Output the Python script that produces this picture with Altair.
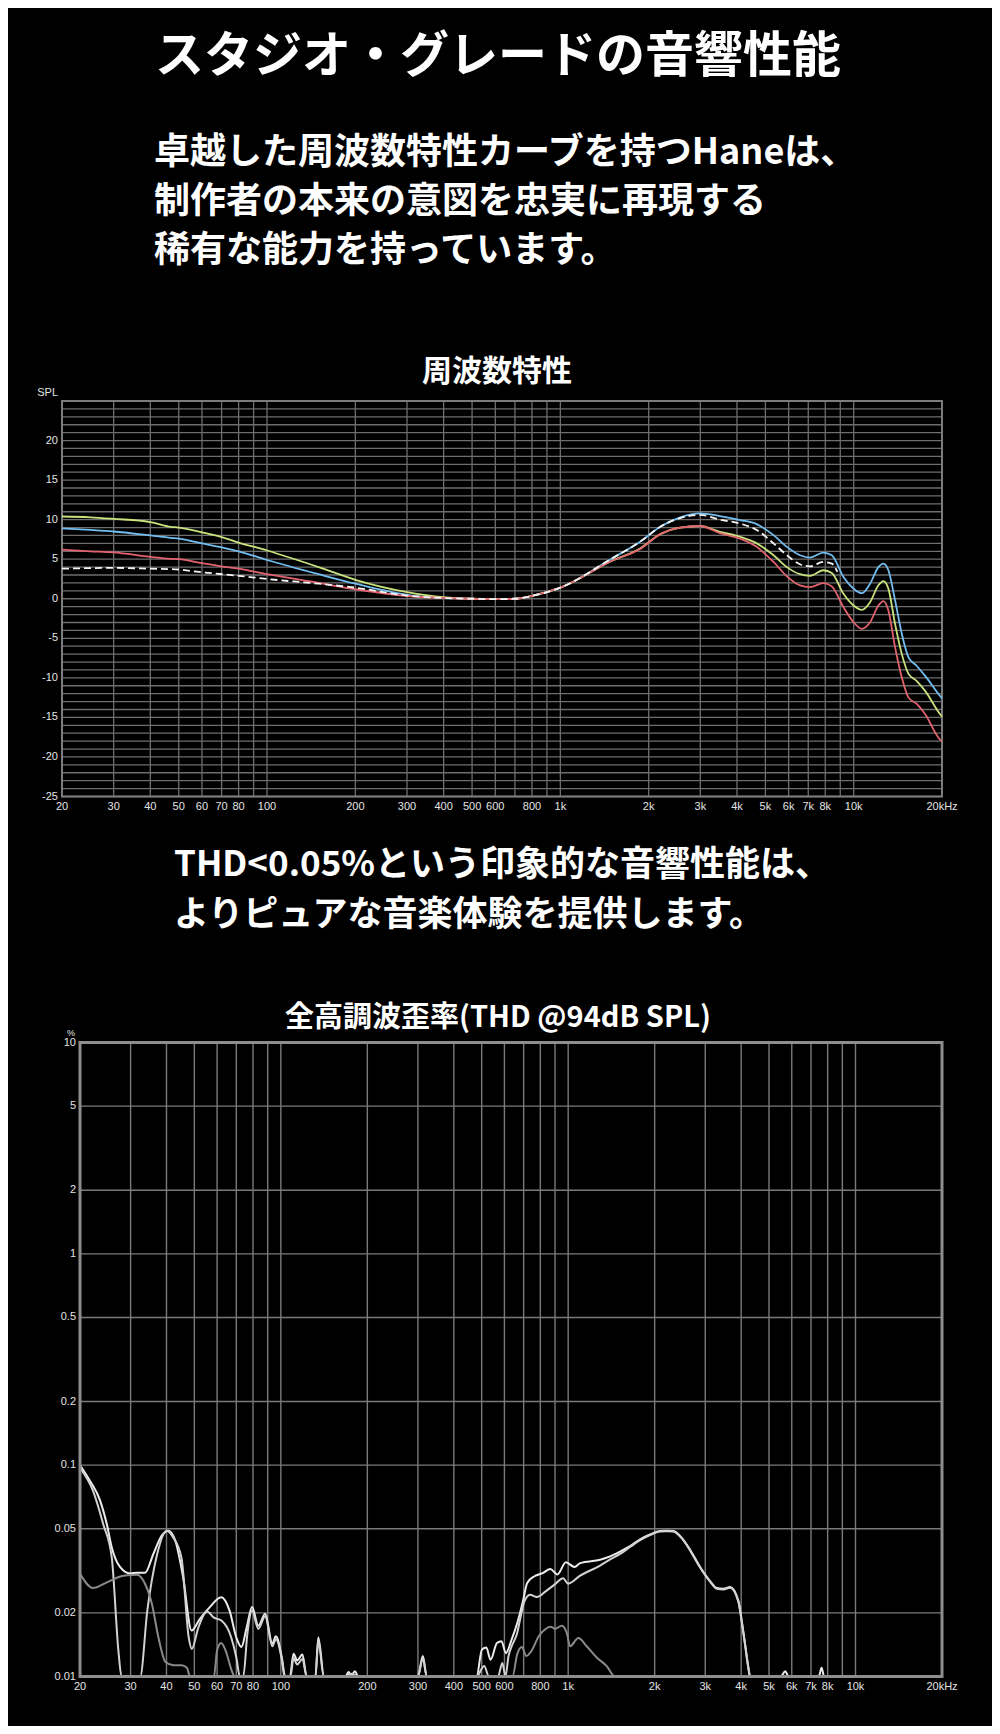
import altair as alt
import pandas as pd

# ---------------- text ----------------
TITLE = "スタジオ・グレードの音響性能"
PARA1 = ["卓越した周波数特性カーブを持つHaneは、", "制作者の本来の意図を忠実に再現する", "稀有な能力を持っています。"]
PARA2 = ["THD<0.05%という印象的な音響性能は、", "よりピュアな音楽体験を提供します。"]
FR_TITLE = "周波数特性"
THD_TITLE = "全高調波歪率(THD @94dB SPL)"
FR_UNIT = "SPL"
THD_UNIT = "%"

# ---------------- frequency response ----------------
fr_freq = [20, 25, 30, 40, 47, 50, 60, 70, 80, 100, 150, 200, 300, 400, 500, 600, 700, 800, 1000,
           1500, 1870, 2190, 2560, 2990, 3500, 4100, 4670, 5330, 5920, 6560, 7100, 7880, 8420,
           9230, 9990, 10660, 11370, 12140, 12630, 13130, 13840, 14590, 15380, 16410, 17520, 19700, 20000]
fr_blue = [8.9, 8.7, 8.5, 8.0, 7.7, 7.6, 7.0, 6.5, 6.0, 4.9, 3.1, 1.9, 0.5, 0.1, 0.0, -0.05, 0.0, 0.35, 1.4,
           5.1, 7.2, 9.1, 10.3, 10.8, 10.45, 9.95, 9.44, 8.04, 6.56, 5.5, 5.2, 5.84, 5.5,
           2.75, 1.27, 0.7, 1.9, 4.0, 4.45, 3.6, -0.2, -4.45, -7.4, -8.5, -9.75, -12.3, -12.6]
fr_green = [10.4, 10.3, 10.1, 9.7, 9.1, 9.0, 8.4, 7.8, 7.1, 6.1, 4.0, 2.4, 0.85, 0.2, 0.0, -0.05, 0.0, 0.35, 1.4,
            4.8, 6.35, 8.17, 9.0, 9.2, 8.46, 7.83, 7.0, 5.5, 4.0, 3.1, 2.9, 3.6, 3.25,
            0.63, -0.85, -1.4, -0.43, 1.7, 2.24, 1.27, -3.2, -7.0, -9.5, -10.4, -11.65, -14.6, -14.9]
fr_red = [6.2, 6.0, 5.85, 5.3, 5.05, 5.0, 4.5, 4.1, 3.8, 3.1, 2.0, 1.2, 0.35, 0.1, 0.0, -0.05, 0.0, 0.35, 1.4,
          4.8, 6.3, 8.17, 9.0, 9.2, 8.3, 7.6, 6.56, 4.65, 2.83, 1.69, 1.48, 1.98, 1.56,
          -1.06, -2.97, -3.8, -2.97, -0.85, -0.3, -1.5, -6.15, -9.96, -12.5, -13.3, -14.6, -17.8, -18.0]
target_freq = [20, 30, 40, 50, 55, 60, 80, 100, 150, 200, 300, 400, 500, 600, 700, 800, 1000, 1500, 1870,
               2190, 2560, 2990, 3500, 4100, 4670, 5330, 5920, 6560, 7100, 7880, 8420, 8800]
target_db = [3.8, 3.9, 3.8, 3.7, 3.5, 3.35, 2.9, 2.5, 1.9, 1.4, 0.4, 0.1, 0.0, -0.05, 0.0, 0.35, 1.4, 5.1, 7.2,
             9.1, 10.2, 10.6, 10.0, 9.5, 8.7, 7.0, 5.5, 4.36, 4.1, 4.65, 4.45, 3.4]
fr_series = ["blue", "green", "red"]
fr_colors = ["#72bdf0", "#c9e27c", "#e2636e"]

# ---------------- THD ----------------
w1_freq = [20, 21.7, 23.5, 24.8, 25.8, 27.6, 29.9, 31.6, 33.7, 36.0, 38.5, 40.6, 42.9, 45.7, 48.9, 52.2, 56.6,
           62, 66.3, 70, 72.9, 76, 79.4, 83.5, 88.2, 93.4, 96.1, 100.8, 103.5, 107.6, 110.7, 114, 118.9, 123,
           131.9, 135, 141.4, 168, 172, 176, 181, 186, 300, 312, 322, 480, 501, 519, 537, 565, 586, 607, 636,
           665, 696, 720, 763, 818, 866, 917, 982, 1052, 1101, 1292, 1400, 1516, 1642, 1780, 1928, 2088, 2204,
           2324, 2486, 2656, 2878, 3118, 3289, 3470, 3660, 3912, 4020, 4128, 4240, 4296, 5500, 5694, 5850,
           7450, 7620, 7780, 20000]
w1_val = [0.1, 0.084, 0.068, 0.0525, 0.0408, 0.0329, 0.0307, 0.031, 0.031, 0.038, 0.0464, 0.049, 0.044, 0.0295,
          0.0165, 0.0187, 0.0213, 0.0237, 0.0205, 0.0153, 0.0138, 0.017, 0.0213, 0.0174, 0.0198, 0.0143, 0.0155,
          0.0123, 0.01, 0.01, 0.0128, 0.0119, 0.0127, 0.01, 0.01, 0.0153, 0.01, 0.01, 0.0105, 0.0101, 0.0106,
          0.01, 0.01, 0.0125, 0.01, 0.01, 0.0134, 0.0137, 0.012, 0.0144, 0.0147, 0.0129, 0.015, 0.0179, 0.0227,
          0.0277, 0.0298, 0.0309, 0.0323, 0.0304, 0.0347, 0.033, 0.0344, 0.0357, 0.037, 0.039, 0.0414, 0.0446,
          0.047, 0.0488, 0.049, 0.0488, 0.0453, 0.0398, 0.033, 0.0283, 0.0262, 0.026, 0.0265, 0.0228, 0.0183,
          0.0142, 0.011, 0.01, 0.01, 0.0106, 0.01, 0.01, 0.011, 0.01, 0.01]
w2_freq = [20, 22.2, 24.1, 25.8, 27.2, 27.9, 32.4, 34.3, 37.0, 40.1, 42.2, 45.1, 47.8, 49, 51.6, 55.4, 58.5,
           62.1, 67.2, 70, 72, 74, 76.5, 79.4, 83.5, 88.2, 93.4, 96.1, 100.8, 103, 108, 110.7, 114, 118.9, 123,
           132, 135, 141, 168, 176, 186, 300, 312, 322, 480, 510, 530, 570, 590, 605, 620, 636, 665, 680, 704,
           737, 778, 835, 896, 960, 1000, 1101, 1292, 1400, 1516, 1642, 1780, 1928, 2088, 2204, 2324, 2486,
           2656, 2878, 3118, 3289, 3470, 3660, 3912, 4020, 4128, 4240, 4296, 20000]
w2_val = [0.097, 0.0755, 0.0525, 0.0365, 0.0133, 0.01, 0.01, 0.0205, 0.0373, 0.049, 0.0455, 0.0365, 0.0153,
          0.0135, 0.017, 0.0203, 0.019, 0.0184, 0.0153, 0.0123, 0.01, 0.01, 0.016, 0.0205, 0.0168, 0.0193,
          0.0139, 0.015, 0.012, 0.01, 0.01, 0.0122, 0.0114, 0.0121, 0.01, 0.01, 0.0148, 0.01, 0.01, 0.0103,
          0.01, 0.01, 0.0122, 0.01, 0.01, 0.0112, 0.01, 0.01, 0.0116, 0.01, 0.0125, 0.0139, 0.0161, 0.0186,
          0.0227, 0.0244, 0.0238, 0.0253, 0.0272, 0.0292, 0.0275, 0.030, 0.0335, 0.0358, 0.038, 0.041, 0.0442,
          0.0467, 0.0485, 0.0487, 0.0485, 0.045, 0.0395, 0.0328, 0.0281, 0.026, 0.0258, 0.0263, 0.0226, 0.0181,
          0.0141, 0.0109, 0.01, 0.01]
g_freq = [20, 22.2, 24.8, 28.3, 31.6, 33.7, 35.6, 37.5, 39.7, 42.2, 45.1, 47.1, 48.3, 58.5, 60, 62, 64.2, 67.4,
          69, 640, 665, 690, 715, 745, 790, 830, 870, 900, 950, 990, 1015, 1085, 1160, 1257, 1362, 1456, 20000]
g_val = [0.0306, 0.0262, 0.0279, 0.030, 0.0303, 0.0274, 0.022, 0.0153, 0.0117, 0.0113, 0.0113, 0.011, 0.01,
         0.01, 0.0133, 0.0144, 0.0133, 0.0107, 0.01, 0.01, 0.0128, 0.0138, 0.0125, 0.0132, 0.0155, 0.0167,
         0.0172, 0.0168, 0.0174, 0.016, 0.0139, 0.0152, 0.0139, 0.0123, 0.0112, 0.01, 0.01]
thd_series = ["H1", "H2", "H3"]
thd_colors = ["#ececec", "#d2d2d2", "#8a8a8a"]

# ---------------- grids and tick labels ----------------
grid_freqs = [20, 30, 40, 50, 60, 70, 80, 90, 100, 200, 300, 400, 500, 600, 700, 800, 900,
              1000, 2000, 3000, 4000, 5000, 6000, 7000, 8000, 9000, 10000, 20000]
x_tick_vals = [20, 30, 40, 50, 60, 70, 80, 100, 200, 300, 400, 500, 600, 800, 1000, 2000, 3000, 4000,
               5000, 6000, 7000, 8000, 10000, 20000]
x_tick_labels = ["20", "30", "40", "50", "60", "70", "80", "100", "200", "300", "400", "500", "600", "800",
                 "1k", "2k", "3k", "4k", "5k", "6k", "7k", "8k", "10k", "20kHz"]
fr_grid_db = list(range(-25, 26))
fr_tick_db = [-25, -20, -15, -10, -5, 0, 5, 10, 15, 20]
fr_tick_labels = ["-25", "-20", "-15", "-10", "-5", "0", "5", "10", "15", "20"]
thd_grid = [0.01, 0.02, 0.05, 0.1, 0.2, 0.5, 1, 2, 5, 10]
thd_tick_labels = ["0.01", "0.02", "0.05", "0.1", "0.2", "0.5", "1", "2", "5", "10"]

# ---------------- layout (chart px) ----------------
W, H = 984, 1718
FR_XS = alt.Scale(type="log", domain=[20, 20000], range=[54, 934], nice=False)
FR_YS = alt.Scale(domain=[-25, 25], range=[788.5, 393], nice=False, zero=False)
TH_XS = alt.Scale(type="log", domain=[20, 20000], range=[72, 934], nice=False)
TH_YS = alt.Scale(type="log", domain=[0.01, 10], range=[1668.5, 1034.5], nice=False)

GRID = "#6e6e6e"
LABEL = "#e4e4e4"
LFONT = "Liberation Sans"
JFONT = "Noto Sans CJK JP"

layers = []

# ===== FR panel =====
fr_hg = alt.Chart(pd.DataFrame({"v": fr_grid_db})).mark_rule(color=GRID, strokeWidth=1.3).encode(
    y=alt.Y("v:Q", scale=FR_YS, axis=None),
    x=alt.XDatum(20, type="quantitative", scale=FR_XS, axis=None),
    x2=alt.X2Datum(20000),
)
fr_vg = alt.Chart(pd.DataFrame({"f": grid_freqs})).mark_rule(color=GRID, strokeWidth=1.3).encode(
    x=alt.X("f:Q", scale=FR_XS, axis=None),
    y=alt.YDatum(-25, type="quantitative", scale=FR_YS, axis=None),
    y2=alt.Y2Datum(25),
)
fr_frame = alt.Chart(pd.DataFrame({"a": [0]})).mark_rect(fill=None, stroke="#7c7c7c", strokeWidth=2).encode(
    x=alt.XDatum(20, type="quantitative", scale=FR_XS, axis=None),
    x2=alt.X2Datum(20000),
    y=alt.YDatum(-25, type="quantitative", scale=FR_YS, axis=None),
    y2=alt.Y2Datum(25),
)
fr_rows = []
for name, vals in zip(fr_series, [fr_blue, fr_green, fr_red]):
    for f, v in zip(fr_freq, vals):
        fr_rows.append({"freq": f, "db": v, "series": name})
fr_df = pd.DataFrame(fr_rows)
fr_lines = alt.Chart(fr_df).mark_line(strokeWidth=1.8, interpolate="monotone").encode(
    x=alt.X("freq:Q", scale=FR_XS, axis=None),
    y=alt.Y("db:Q", scale=FR_YS, axis=None),
    color=alt.Color("series:N", scale=alt.Scale(domain=fr_series, range=fr_colors), legend=None),
    order=alt.Order("freq:Q"),
)
fr_target = alt.Chart(pd.DataFrame({"freq": target_freq, "db": target_db})).mark_line(
    strokeWidth=1.8, interpolate="monotone", color="#f4f4f4", strokeDash=[7, 4]).encode(
    x=alt.X("freq:Q", scale=FR_XS, axis=None),
    y=alt.Y("db:Q", scale=FR_YS, axis=None),
)
fr_ylab = alt.Chart(pd.DataFrame({"v": fr_tick_db, "t": fr_tick_labels})).mark_text(
    align="right", baseline="middle", dx=-4, fontSize=11, font=LFONT, color=LABEL).encode(
    y=alt.Y("v:Q", scale=FR_YS, axis=None),
    x=alt.XDatum(20, type="quantitative", scale=FR_XS, axis=None),
    text="t:N",
)
fr_unit = alt.Chart(pd.DataFrame({"t": [FR_UNIT]})).mark_text(
    align="right", baseline="middle", dx=-4, dy=-8, fontSize=11, font=LFONT, color=LABEL).encode(
    y=alt.YDatum(25, type="quantitative", scale=FR_YS, axis=None),
    x=alt.XDatum(20, type="quantitative", scale=FR_XS, axis=None),
    text="t:N",
)
fr_xlab = alt.Chart(pd.DataFrame({"f": x_tick_vals, "t": x_tick_labels})).mark_text(
    align="center", baseline="middle", dy=10, fontSize=11, font=LFONT, color=LABEL).encode(
    x=alt.X("f:Q", scale=FR_XS, axis=None),
    y=alt.YDatum(-25, type="quantitative", scale=FR_YS, axis=None),
    text="t:N",
)
layers += [fr_hg, fr_vg, fr_frame, fr_lines, fr_target, fr_ylab, fr_unit, fr_xlab]

# ===== THD panel =====
th_hg = alt.Chart(pd.DataFrame({"v": thd_grid})).mark_rule(color="#7a7a7a", strokeWidth=1.4).encode(
    y=alt.Y("v:Q", scale=TH_YS, axis=None),
    x=alt.XDatum(20, type="quantitative", scale=TH_XS, axis=None),
    x2=alt.X2Datum(20000),
)
th_vg = alt.Chart(pd.DataFrame({"f": grid_freqs})).mark_rule(color="#7a7a7a", strokeWidth=1.4).encode(
    x=alt.X("f:Q", scale=TH_XS, axis=None),
    y=alt.YDatum(0.01, type="quantitative", scale=TH_YS, axis=None),
    y2=alt.Y2Datum(10),
)
th_rows = []
for name, fs, vs in zip(thd_series, [w1_freq, w2_freq, g_freq], [w1_val, w2_val, g_val]):
    for f, v in zip(fs, vs):
        th_rows.append({"freq": f, "thd": v, "series": name})
th_df = pd.DataFrame(th_rows)
th_lines = alt.Chart(th_df).mark_line(strokeWidth=2, interpolate="monotone").encode(
    x=alt.X("freq:Q", scale=TH_XS, axis=None),
    y=alt.Y("thd:Q", scale=TH_YS, axis=None),
    color=alt.Color("series:N", scale=alt.Scale(domain=thd_series[::-1], range=thd_colors[::-1]), legend=None),
    order=alt.Order("freq:Q"),
    detail="series:N",
)
th_frame = alt.Chart(pd.DataFrame({"a": [0]})).mark_rect(fill=None, stroke="#8e8e8e", strokeWidth=3).encode(
    x=alt.XDatum(20, type="quantitative", scale=TH_XS, axis=None),
    x2=alt.X2Datum(20000),
    y=alt.YDatum(0.01, type="quantitative", scale=TH_YS, axis=None),
    y2=alt.Y2Datum(10),
)
th_ylab = alt.Chart(pd.DataFrame({"v": thd_grid, "t": thd_tick_labels})).mark_text(
    align="right", baseline="middle", dx=-4, fontSize=11, font=LFONT, color=LABEL).encode(
    y=alt.Y("v:Q", scale=TH_YS, axis=None),
    x=alt.XDatum(20, type="quantitative", scale=TH_XS, axis=None),
    text="t:N",
)
th_unit = alt.Chart(pd.DataFrame({"t": [THD_UNIT]})).mark_text(
    align="center", baseline="middle", dx=-9, dy=-10, fontSize=9, font=LFONT, color=LABEL).encode(
    y=alt.YDatum(10, type="quantitative", scale=TH_YS, axis=None),
    x=alt.XDatum(20, type="quantitative", scale=TH_XS, axis=None),
    text="t:N",
)
th_xlab = alt.Chart(pd.DataFrame({"f": x_tick_vals, "t": x_tick_labels})).mark_text(
    align="center", baseline="middle", dy=10, fontSize=11, font=LFONT, color=LABEL).encode(
    x=alt.X("f:Q", scale=TH_XS, axis=None),
    y=alt.YDatum(0.01, type="quantitative", scale=TH_YS, axis=None),
    text="t:N",
)
layers += [th_hg, th_vg, th_lines, th_frame, th_ylab, th_unit, th_xlab]

# ===== headings and paragraphs =====
def text_block(lines, x, y, size, align, line_height, weight="bold"):
    return alt.Chart(pd.DataFrame({"t": ["\n".join(lines)]})).mark_text(
        align=align, baseline="middle", lineBreak="\n", lineHeight=line_height,
        fontSize=size, font=JFONT, fontWeight=weight, color="white").encode(
        x=alt.value(x), y=alt.value(y), text="t:N")

layers += [
    text_block([TITLE], 490, 49, 49, "center", 50),
    text_block(PARA1, 146, 145, 36, "left", 49),
    text_block([FR_TITLE], 489, 364, 30, "center", 30),
    text_block(PARA2, 166, 857, 35, "left", 50),
    text_block([THD_TITLE], 490, 1010, 29, "center", 30),
]

chart = alt.layer(*layers).resolve_scale(
    x="independent", y="independent", color="independent"
).properties(
    width=W, height=H, background="black", padding=0,
    autosize=alt.AutoSizeParams(type="none"),
).configure_view(strokeWidth=0)

chart.save("out.html", embed_options={"renderer": "svg", "actions": False})
